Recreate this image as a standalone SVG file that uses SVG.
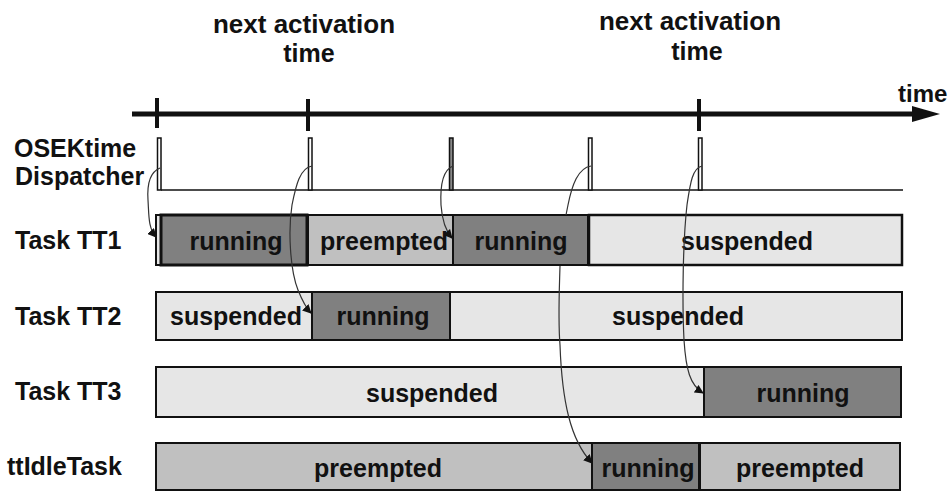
<svg xmlns="http://www.w3.org/2000/svg" width="951" height="491" viewBox="0 0 951 491">
<style>
text{font-family:"Liberation Sans",Arial,sans-serif;font-weight:bold;font-size:25px;fill:#111}
.c{text-anchor:middle}
.h{font-size:26px}
.run{fill:#808080;stroke:#111;stroke-width:2}
.pre{fill:#c0c0c0;stroke:#111;stroke-width:2}
.sus{fill:#e6e6e6;stroke:#111;stroke-width:2}
.pulse{fill:#fff;stroke:#111;stroke-width:1.5}
.conn{fill:none;stroke:#333;stroke-width:1.2}
</style>
<defs>
<marker id="ah" viewBox="0 0 10 10" refX="9" refY="5" markerWidth="9" markerHeight="9" markerUnits="userSpaceOnUse" orient="auto">
<path d="M0,0 L10,5 L0,10 z" fill="#111"/>
</marker>
</defs>
<rect width="951" height="491" fill="#fff"/>
<g id="labels">
<text class="c h" x="304" y="33">next activation</text>
<text class="c" x="309" y="62">time</text>
<text class="c h" x="690" y="30">next activation</text>
<text class="c" x="697" y="60">time</text>
<text x="898" y="102" style="font-size:24px">time</text>
<text x="14" y="157">OSEKtime</text>
<text x="15" y="185">Dispatcher</text>
<text x="15" y="249">Task TT1</text>
<text x="15" y="325">Task TT2</text>
<text x="15" y="400">Task TT3</text>
<text x="7" y="475">ttIdleTask</text>
</g>
<g id="timeaxis">
<line x1="132" y1="114" x2="916" y2="114" stroke="#111" stroke-width="5"/>
<polygon points="912,106 940,114 912,122" fill="#111"/>
<line x1="157" y1="98" x2="157" y2="128" stroke="#111" stroke-width="4"/>
<line x1="308" y1="99" x2="308" y2="131" stroke="#111" stroke-width="4"/>
<line x1="699" y1="99" x2="699" y2="131" stroke="#111" stroke-width="4"/>
</g>
<g id="dispatcher">
<line x1="161" y1="190" x2="903" y2="190" stroke="#111" stroke-width="1.5"/>
<rect class="pulse" x="157.5" y="138" width="3.5" height="52"/>
<rect class="pulse" x="308.5" y="138" width="3.5" height="52"/>
<rect class="pulse" x="449.5" y="138" width="3.5" height="52" style="fill:#888"/>
<rect class="pulse" x="588.5" y="138" width="3.5" height="52"/>
<rect class="pulse" x="698.5" y="138" width="3.5" height="52"/>
</g>
<g id="tt1">
<rect class="sus" x="156" y="215" width="5" height="50"/>
<rect class="run" x="161" y="215" width="146" height="50" style="stroke-width:3"/>
<rect class="pre" x="308" y="215" width="145" height="50"/>
<rect class="run" x="453" y="215" width="135" height="50"/>
<rect class="sus" x="589" y="215" width="313" height="50" style="stroke-width:2.5"/>
<text class="c" x="236" y="250">running</text>
<text class="c" x="384" y="250">preempted</text>
<text class="c" x="521" y="250">running</text>
<text class="c" x="747" y="250">suspended</text>
</g>
<g id="tt2">
<rect class="sus" x="156" y="292" width="156" height="48"/>
<rect class="run" x="312" y="292" width="138" height="48"/>
<rect class="sus" x="450" y="292" width="452" height="48"/>
<text class="c" x="236" y="325">suspended</text>
<text class="c" x="383" y="325">running</text>
<text class="c" x="678" y="325">suspended</text>
</g>
<g id="tt3">
<rect class="sus" x="156" y="367" width="548" height="50"/>
<rect class="run" x="704" y="367" width="197" height="50"/>
<text class="c" x="432" y="402">suspended</text>
<text class="c" x="803" y="402">running</text>
</g>
<g id="ttidle">
<rect class="pre" x="156" y="443" width="436" height="47"/>
<rect class="run" x="592" y="443" width="107" height="47"/>
<rect class="pre" x="700" y="443" width="200" height="47"/>
<text class="c" x="378" y="477">preempted</text>
<text class="c" x="648" y="477">running</text>
<text class="c" x="800" y="477">preempted</text>
</g>
<g id="connectors">
<path class="conn" marker-end="url(#ah)" d="M160,168 C150,172 147,185 148,200 C149,215 148,228 156,237"/>
<path class="conn" marker-end="url(#ah)" d="M312,166 C300,168 296,185 292,205 C288,230 290,270 298,290 C302,300 305,307 311,313"/>
<path class="conn" marker-end="url(#ah)" d="M453,166 C443,170 440,185 441,205 C442,220 445,230 452,238"/>
<path class="conn" d="M591,166 C578,168 572,185 568,205 L566,215"/>
<path class="conn" marker-end="url(#ah)" d="M560,266 C559,300 558,320 560,345 C562,400 570,440 592,463"/>
<path class="conn" marker-end="url(#ah)" d="M702,166 C692,168 690,185 687,205 C683,240 682,300 684,340 C686,370 690,385 703,393"/>
</g>
</svg>
